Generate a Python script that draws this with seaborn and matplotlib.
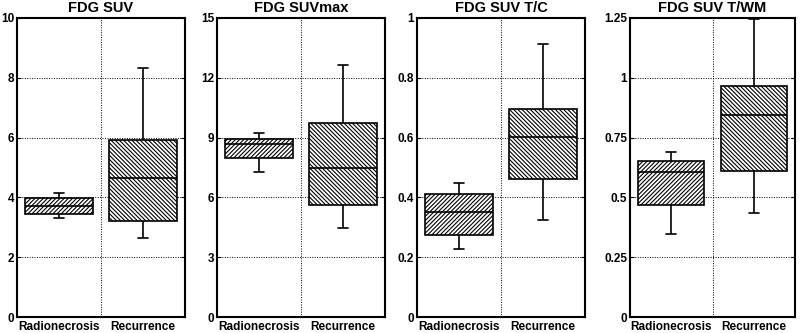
import numpy as np
import pandas as pd
import seaborn as sns
import matplotlib
matplotlib.use("Agg")
import matplotlib.pyplot as plt
from matplotlib.ticker import FixedLocator

sns.set_style("white")
plt.rcParams['font.family'] = ['Liberation Sans', 'DejaVu Sans']
plt.rcParams['font.weight'] = 'bold'
plt.rcParams['hatch.linewidth'] = 0.8
plt.rcParams['text.color'] = 'black'
plt.rcParams['axes.titlecolor'] = 'black'
plt.rcParams['xtick.color'] = 'black'
plt.rcParams['ytick.color'] = 'black'

categories = ["Radionecrosis", "Recurrence"]
titles = ["FDG SUV", "FDG SUVmax", "FDG SUV T/C", "FDG SUV T/WM"]

# five-number summaries: [min, Q1, median, Q3, max]
suv_rad = [3.30, 3.46, 3.72, 3.97, 4.16]
suv_rec = [2.63, 3.22, 4.64, 5.92, 8.32]
suvmax_rad = [7.26, 7.96, 8.68, 8.93, 9.22]
suvmax_rec = [4.44, 5.61, 7.46, 9.72, 12.62]
tc_rad = [0.227, 0.274, 0.352, 0.413, 0.449]
tc_rec = [0.324, 0.460, 0.601, 0.696, 0.914]
twm_rad = [0.346, 0.468, 0.605, 0.652, 0.691]
twm_rec = [0.433, 0.612, 0.845, 0.964, 1.247]

yticks = [
    [0, 2, 4, 6, 8, 10],
    [0, 3, 6, 9, 12, 15],
    [0, 0.2, 0.4, 0.6, 0.8, 1.0],
    [0, 0.25, 0.5, 0.75, 1.0, 1.25],
]
yticklabels = [
    ["0", "2", "4", "6", "8", "10"],
    ["0", "3", "6", "9", "12", "15"],
    ["0", "0.2", "0.4", "0.6", "0.8", "1"],
    ["0", "0.25", "0.5", "0.75", "1", "1.25"],
]
series = [(suv_rad, suv_rec), (suvmax_rad, suvmax_rec), (tc_rad, tc_rec), (twm_rad, twm_rec)]

fig = plt.figure(figsize=(8, 3.33), dpi=100)
lefts = [17, 217, 417, 630]
rights = [185, 385, 585, 795]
bottom = 1 - 317 / 333
top = 1 - 18 / 333
hatches = ["/" * 8, "\\" * 8]

for i in range(4):
    ax = fig.add_axes([lefts[i] / 800, bottom, (rights[i] - lefts[i]) / 800, top - bottom])
    rad, rec = series[i]
    df = pd.DataFrame({
        "group": [categories[0]] * len(rad) + [categories[1]] * len(rec),
        "value": list(rad) + list(rec),
    })
    sns.boxplot(data=df, x="group", y="value", order=categories, ax=ax,
                whis=(0, 100), width=0.8, fill=True, color="white",
                linecolor="black", linewidth=1.2, showfliers=False,
                capwidths=0.12,
                medianprops=dict(color="black", linewidth=1.2))
    for p, h in zip(ax.patches, hatches):
        p.set_hatch(h)
        p.set_facecolor("white")
        p.set_edgecolor("black")
    ax.set_xlim(-0.5, 1.5)
    ax.set_ylim(yticks[i][0], yticks[i][-1])
    ax.set_yticks(yticks[i])
    ax.set_yticklabels(yticklabels[i], fontsize=8.5, fontweight="bold", color="black")
    ax.set_xticks([0, 1])
    ax.set_xticklabels(categories, fontsize=8.5, fontweight="bold", color="black")
    ax.xaxis.set_minor_locator(FixedLocator([0.5]))
    ax.grid(True, axis="y", which="major", linestyle=(0, (1, 1.5)), color="black", linewidth=0.7)
    ax.grid(True, axis="x", which="minor", linestyle=(0, (1, 1.5)), color="black", linewidth=0.7)
    ax.set_axisbelow(True)
    ax.tick_params(axis="y", which="major", direction="in", length=3, width=0.8,
                   left=True, right=True, pad=2, colors="black")
    ax.tick_params(axis="x", which="both", length=0, pad=3, colors="black")
    for s in ax.spines.values():
        s.set_visible(True)
        s.set_color("black")
        s.set_linewidth(1.5)
    ax.set_xlabel("")
    ax.set_ylabel("")
    ax.set_title(titles[i], fontsize=10.5, fontweight="bold", pad=4, color="black")

fig.savefig("out.png", dpi=100)
